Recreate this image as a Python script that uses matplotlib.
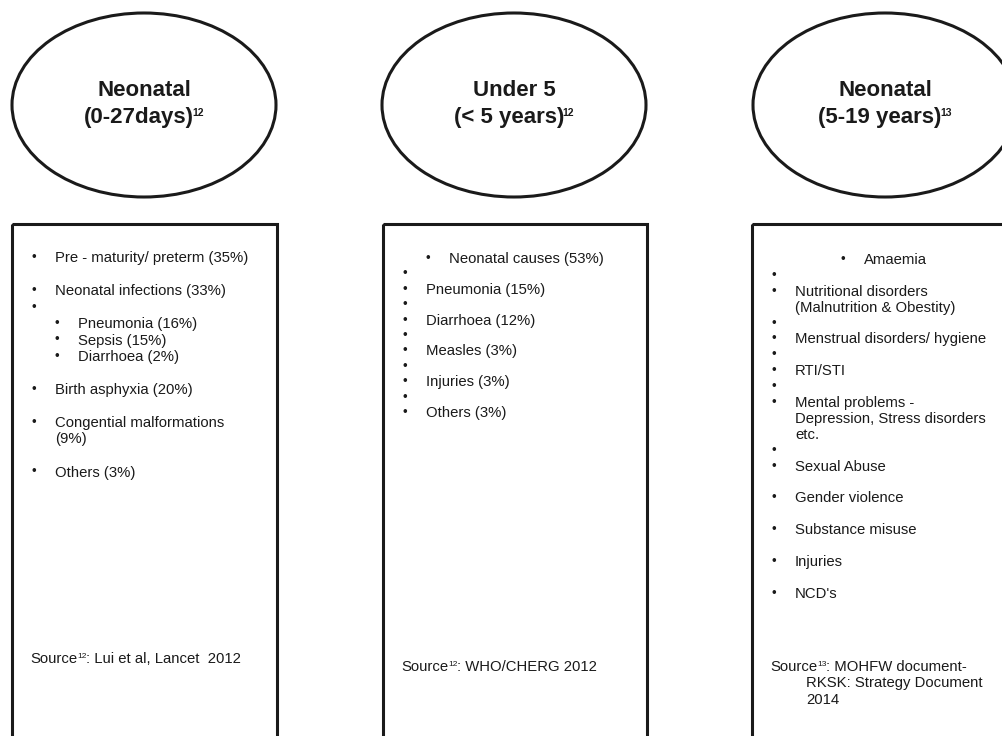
import matplotlib
matplotlib.use("Agg")
import matplotlib.pyplot as plt
from matplotlib.patches import Ellipse, Rectangle

plt.rcParams["font.family"] = ["Liberation Sans", "DejaVu Sans"]

# === data ===========================================================
title_line1 = ["Neonatal", "Under 5", "Neonatal"]
title_line2 = ["(0-27days)", "(< 5 years)", "(5-19 years)"]
title_refs = ["12", "12", "13"]

# (level, text); "" = lone bullet, None = blank line
box1_items = [
    (0, "Pre - maturity/ preterm (35%)"),
    None,
    (0, "Neonatal infections (33%)"),
    (0, ""),
    (1, "Pneumonia (16%)"),
    (1, "Sepsis (15%)"),
    (1, "Diarrhoea (2%)"),
    None,
    (0, "Birth asphyxia (20%)"),
    None,
    (0, "Congential malformations\n(9%)"),
    None,
    (0, "Others (3%)"),
]
box2_items = [
    (1, "Neonatal causes (53%)"),
    (0, ""),
    (0, "Pneumonia (15%)"),
    (0, ""),
    (0, "Diarrhoea (12%)"),
    (0, ""),
    (0, "Measles (3%)"),
    (0, ""),
    (0, "Injuries (3%)"),
    (0, ""),
    (0, "Others (3%)"),
]
box3_items = [
    (3, "Amaemia"),
    (0, ""),
    (0, "Nutritional disorders\n(Malnutrition & Obestity)"),
    (0, ""),
    (0, "Menstrual disorders/ hygiene"),
    (0, ""),
    (0, "RTI/STI"),
    (0, ""),
    (0, "Mental problems -\nDepression, Stress disorders\netc."),
    (0, ""),
    (0, "Sexual Abuse"),
    None,
    (0, "Gender violence"),
    None,
    (0, "Substance misuse"),
    None,
    (0, "Injuries"),
    None,
    (0, "NCD's"),
]
source_refs = ["12", "12", "13"]
source_rest = [
    ": Lui et al, Lancet  2012",
    ": WHO/CHERG 2012",
    ": MOHFW document-\nRKSK: Strategy Document\n2014",
]

# === layout =========================================================
W, H = 1003, 736
ink = "#1a1a1a"
ell_cx = [144, 514, 885]
ell_w, ell_h, ell_cy = 264, 184, 105
box_left = [12, 383, 752]
box_right = [277, 647, 1030]
box_top = 224
start_y = [258, 259, 260]
step_y = [16.5, 15.4, 15.9]
source_y = [659, 667, 667]
body_fs = 10.7
title_fs = 16

fig = plt.figure(figsize=(W / 100, H / 100), dpi=100)
ax = fig.add_axes([0, 0, 1, 1])
ax.set_xlim(0, W)
ax.set_ylim(H, 0)
ax.axis("off")

for i, items in enumerate([box1_items, box2_items, box3_items]):
    # ellipse + title
    ax.add_patch(Ellipse((ell_cx[i], ell_cy), ell_w, ell_h,
                         fill=False, edgecolor=ink, linewidth=2.2))
    ax.text(ell_cx[i], ell_cy - 15, title_line1[i], ha="center", va="center",
            fontsize=title_fs, fontweight="bold", color=ink)
    t2 = ax.text(ell_cx[i] - 5, ell_cy + 13, title_line2[i], ha="center",
                 va="center", fontsize=title_fs, fontweight="bold", color=ink)
    ax.annotate(title_refs[i], xy=(1, 1), xycoords=t2,
                xytext=(-1, -0.5), textcoords="offset points",
                ha="left", va="top", fontsize=7.5, fontweight="bold",
                color=ink)

    # box (open at the bottom of the page)
    x0 = box_left[i]
    ax.add_patch(Rectangle((x0, box_top), box_right[i] - x0, H + 20 - box_top,
                           fill=False, edgecolor=ink, linewidth=2.2))

    # bullet list
    y = start_y[i]
    for item in items:
        if item is None:
            y += step_y[i]
            continue
        level, text = item
        bx = x0 + 20 + 23 * level
        tx = bx + 23
        ax.text(bx, y, "•", ha="left", va="center", fontsize=body_fs - 1,
                color=ink)
        for line in text.split("\n") if text else []:
            ax.text(tx, y, line, ha="left", va="center", fontsize=body_fs,
                    color=ink)
            y += step_y[i]
        if not text:
            y += step_y[i]

    # source note: "Source" + small superscript + rest
    sx = x0 + 18
    sy = source_y[i]
    s1 = ax.text(sx, sy, "Source", ha="left", va="center", fontsize=body_fs,
                 color=ink)
    s2 = ax.annotate(source_refs[i], xy=(1, 0.95), xycoords=s1,
                     xytext=(0, 0), textcoords="offset points",
                     ha="left", va="top", fontsize=6, color=ink)
    rest = source_rest[i].split("\n")
    ax.annotate(rest[0], xy=(1, 0.5), xycoords=(s2, s1),
                ha="left", va="center", fontsize=body_fs, color=ink)
    for j, line in enumerate(rest[1:], 1):
        ax.text(sx + 36, sy + 16.5 * j, line, ha="left", va="center",
                fontsize=body_fs, color=ink)

fig.savefig("out.png", dpi=100)
